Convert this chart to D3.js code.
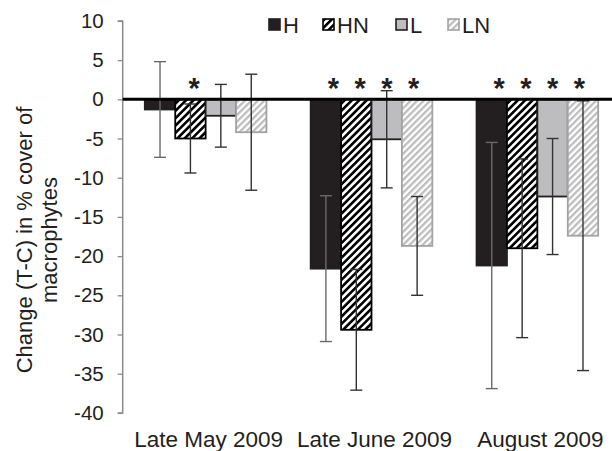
<!DOCTYPE html>
<html>
<head>
<meta charset="utf-8">
<script src="https://cdn.jsdelivr.net/npm/d3@7/dist/d3.min.js"></script>
<style>
  body { margin: 0; background: #fff; }
  text { font-family: "Liberation Sans", Arial, sans-serif; fill: #231f20; }
</style>
</head>
<body>
<svg id="chart"></svg>
<script>
// datos
const categorias = ["Late May 2009", "Late June 2009", "August 2009"];
const series = ["H", "HN", "L", "LN"];

const valoresH = [-1.3, -21.6, -21.2];
const valoresHN = [-5.0, -29.4, -19.0];
const valoresL = [-2.1, -5.1, -12.4];
const valoresLN = [-4.2, -18.7, -17.4];

const errorH = [6.1, 9.3, 15.7];
const errorHN = [4.4, 7.7, 11.4];
const errorL = [4.0, 6.2, 7.4];
const errorLN = [7.4, 6.3, 17.2];

// asteriscos de significancia por categoria y serie
const estrellas = [
    [false, true, false, false],
    [true, true, true, true],
    [true, true, true, true]
];

const ticksY = [10, 5, 0, -5, -10, -15, -20, -25, -30, -35, -40];

const WIDTH = 612;
const HEIGHT = 451;
const margins = { top: 20.9, bottom: 38.1, left: 122.7, right: -8.3 };

const svg = d3.select("#chart")
    .attr("width", WIDTH)
    .attr("height", HEIGHT);

const valores = { H: valoresH, HN: valoresHN, L: valoresL, LN: valoresLN };
const errores = { H: errorH, HN: errorHN, L: errorL, LN: errorLN };

const datos = categorias.map((c, i) => ({
    categoria: c,
    barras: series.map((s, j) => ({
        serie: s, indice: j, valor: valores[s][i], error: errores[s][i], estrella: estrellas[i][j]
    }))
}));

// patrones rayados
const defs = svg.append("defs");
const rayado = (id, color, fondo, paso) => {
    const p = defs.append("pattern")
        .attr("id", id)
        .attr("patternUnits", "userSpaceOnUse")
        .attr("width", paso).attr("height", paso)
        .attr("patternTransform", "rotate(45)");
    p.append("rect").attr("width", paso).attr("height", paso).attr("fill", fondo);
    p.append("rect").attr("width", paso / 2).attr("height", paso).attr("fill", color);
};
rayado("patHN", "#000", "#fff", 5.2);
rayado("patLN", "#bdbdbd", "#fff", 4.6);

const estilos = {
    H: { fill: "#231f20", stroke: "#231f20" },
    HN: { fill: "url(#patHN)", stroke: "#000" },
    L: { fill: "#bdbdbf", stroke: "#231f20" },
    LN: { fill: "url(#patLN)", stroke: "#a3a3a3" }
};

const escalaY = d3.scaleLinear()
    .domain([-40, 10])
    .range([HEIGHT - margins.bottom, margins.top]);

const escalaX = d3.scaleBand()
    .domain(categorias)
    .range([margins.left, WIDTH - margins.right]);

const escalaSerie = d3.scaleBand()
    .domain(series)
    .range([0, escalaX.bandwidth()])
    .paddingOuter(0.727);

// eje Y
const ejeY = d3.axisLeft(escalaY)
    .tickValues(ticksY)
    .tickSize(5)
    .tickPadding(14)
    .tickFormat(d => String(d));

const gEje = svg.append("g")
    .attr("transform", `translate(${margins.left},0)`)
    .call(ejeY);
gEje.select(".domain").attr("stroke", "#8c8c8c").attr("stroke-width", 1.5).attr("d", `M-5,${escalaY(10)}H0V${escalaY(-40)}H-5`);
gEje.selectAll(".tick line").attr("stroke", "#8c8c8c").attr("stroke-width", 1.3);
gEje.selectAll(".tick text")
    .attr("font-size", 20.5)
    .attr("fill", "#231f20")
    .style("font-family", "'Liberation Sans', Arial, sans-serif");

// barras
const grupos = svg.selectAll(".grupo")
    .data(datos)
    .join("g")
    .attr("class", "grupo")
    .attr("transform", d => `translate(${escalaX(d.categoria)},0)`);

grupos.selectAll("rect")
    .data(d => d.barras)
    .join("rect")
    .attr("x", d => escalaSerie(d.serie))
    .attr("y", d => escalaY(Math.max(0, d.valor)))
    .attr("width", escalaSerie.bandwidth())
    .attr("height", d => Math.abs(escalaY(d.valor) - escalaY(0)))
    .attr("fill", d => estilos[d.serie].fill)
    .attr("stroke", d => estilos[d.serie].stroke)
    .attr("stroke-width", 1.8);

// barras de error
const err = grupos.selectAll(".err")
    .data(d => d.barras)
    .join("g")
    .attr("class", "err")
    .attr("transform", d => `translate(${escalaSerie(d.serie) + escalaSerie.bandwidth() / 2},0)`)
    .attr("stroke", d => d.serie === "H" ? "#6a6a6a" : "#333")
    .attr("stroke-width", 1.4);

err.append("line")
    .attr("y1", d => escalaY(d.valor + d.error))
    .attr("y2", d => escalaY(d.valor - d.error));
err.append("line")
    .attr("x1", -6).attr("x2", 6)
    .attr("y1", d => escalaY(d.valor + d.error))
    .attr("y2", d => escalaY(d.valor + d.error));
err.append("line")
    .attr("x1", -6).attr("x2", 6)
    .attr("y1", d => escalaY(d.valor - d.error))
    .attr("y2", d => escalaY(d.valor - d.error));

// linea del cero
svg.append("line")
    .attr("x1", margins.left)
    .attr("x2", WIDTH)
    .attr("y1", escalaY(0))
    .attr("y2", escalaY(0))
    .attr("stroke", "#000")
    .attr("stroke-width", 3);

// asteriscos: un poco mas juntos que las barras, centrados en el grupo
const pasoEstrella = escalaSerie.step() * 0.88;
grupos.selectAll(".estrella")
    .data(d => d.barras.filter(b => b.estrella))
    .join("text")
    .attr("class", "estrella")
    .attr("x", d => escalaX.bandwidth() / 2 + (d.indice - 1.5) * pasoEstrella + 2)
    .attr("y", 98)
    .attr("text-anchor", "middle")
    .attr("font-size", 29)
    .attr("font-weight", "bold")
    .text("*");

// etiquetas de categorias
svg.selectAll(".cat")
    .data(categorias)
    .join("text")
    .attr("class", "cat")
    .attr("x", d => escalaX(d) + escalaX.bandwidth() / 2 + 3)
    .attr("y", 447)
    .attr("text-anchor", "middle")
    .attr("font-size", 22.5)
    .text(d => d);

// titulo eje Y
const titulo = svg.append("text")
    .attr("transform", "translate(0,240) rotate(-90)")
    .attr("text-anchor", "middle")
    .attr("font-size", 22);
titulo.append("tspan").attr("x", 0).attr("y", 32).text("Change (T-C) in % cover of");
titulo.append("tspan").attr("x", 0).attr("y", 57).text("macrophytes");

// leyenda
const posLeyenda = [269, 323, 396, 448];
const leyenda = svg.selectAll(".leyenda")
    .data(series)
    .join("g")
    .attr("class", "leyenda")
    .attr("transform", (d, i) => `translate(${posLeyenda[i]},19)`);

leyenda.append("rect")
    .attr("width", 11).attr("height", 11)
    .attr("fill", d => estilos[d].fill)
    .attr("stroke", d => estilos[d].stroke)
    .attr("stroke-width", 1.6);

leyenda.append("text")
    .attr("x", 14)
    .attr("y", 13.5)
    .attr("font-size", 22)
    .text(d => d);
</script>
</body>
</html>
